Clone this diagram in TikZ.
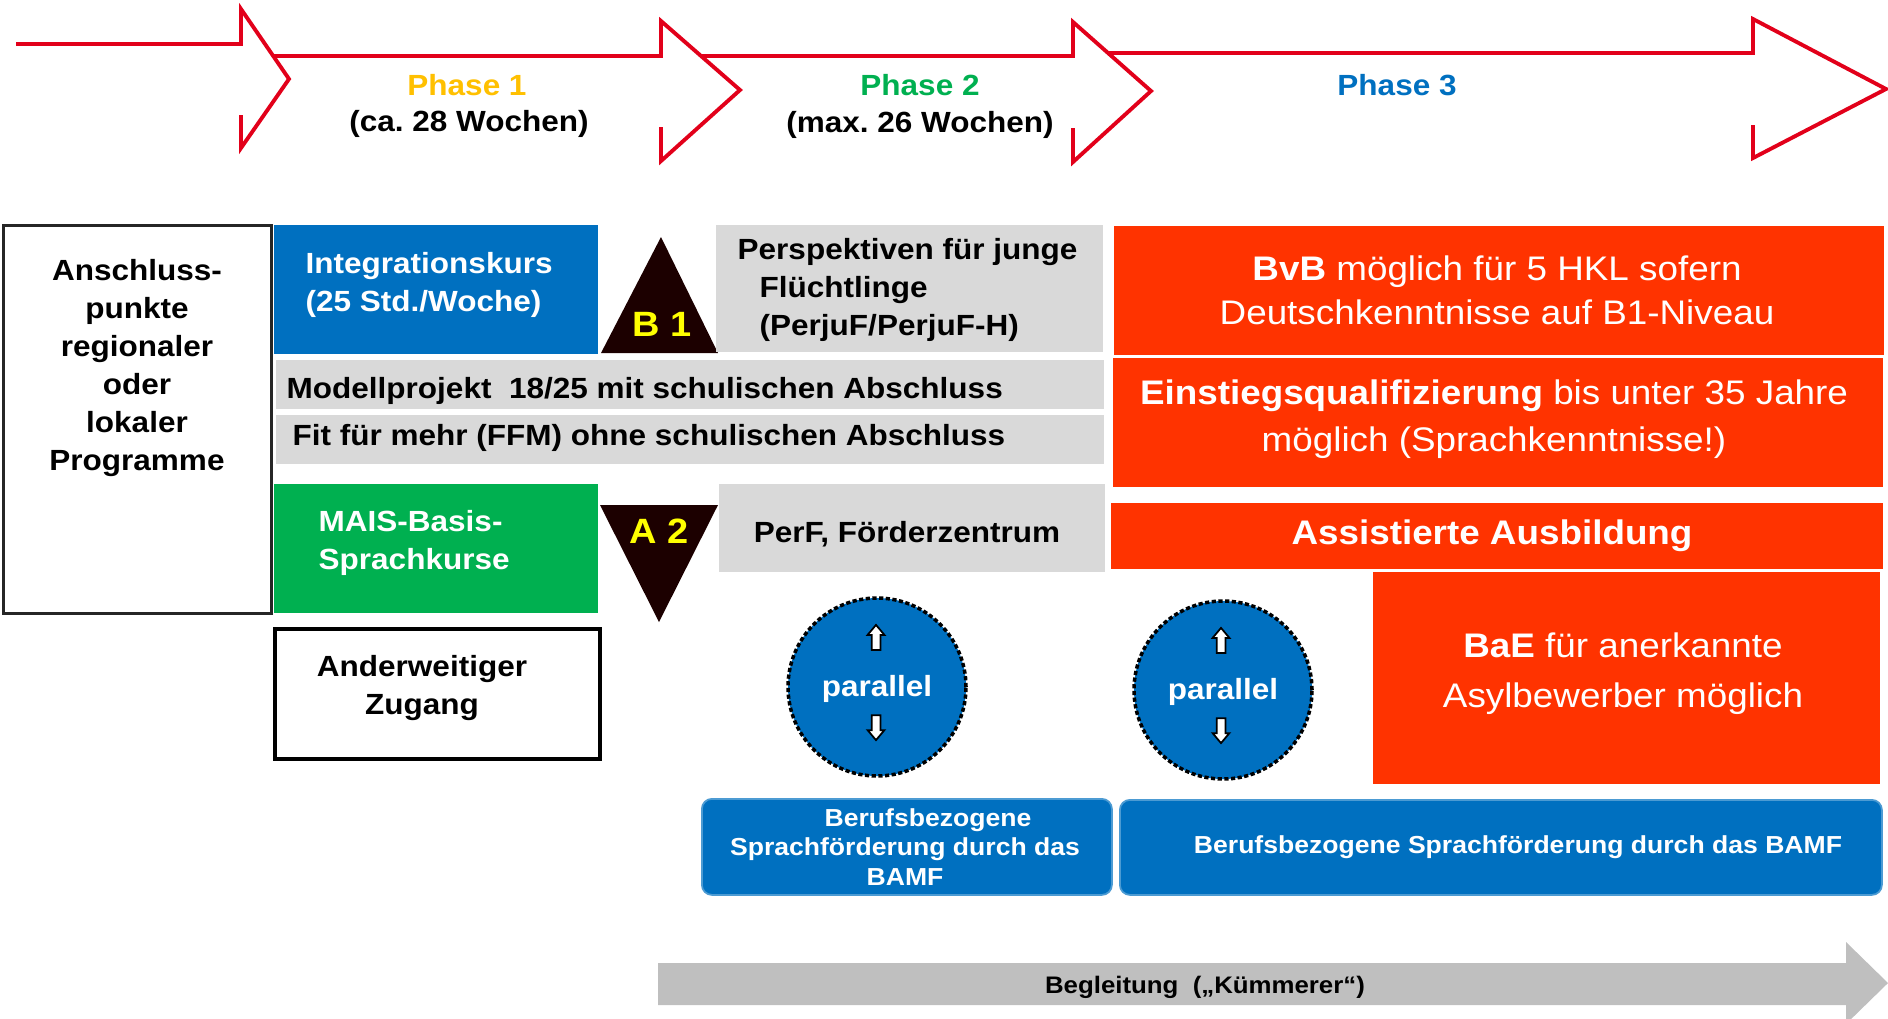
\documentclass[tikz,border=0pt]{standalone}
\usepackage{fontspec}
\setmainfont{Liberation Sans}[FakeStretch=1.08]
\usepackage{tikz}
\usetikzlibrary{calc,shapes.arrows}
\definecolor{arrowred}{HTML}{E2001A}
\definecolor{phgold}{HTML}{FFC000}
\definecolor{phgreen}{HTML}{00B050}
\definecolor{phblue}{HTML}{0070C0}
\definecolor{boxblue}{HTML}{0070C0}
\definecolor{boxgreen}{HTML}{00B050}
\definecolor{boxgray}{HTML}{D9D9D9}
\definecolor{boxred}{HTML}{FF3300}
\definecolor{tri}{HTML}{1C0000}
\definecolor{trilabel}{HTML}{FFFF00}
\definecolor{begl}{HTML}{BFBFBF}
\frenchspacing
\tikzset{
  timeline/.style={draw=arrowred, line width=1.1pt, line join=miter},
  pbox/.style={rectangle, inner sep=0pt, anchor=north west},
  lab/.style={font=\fontsize{8.3}{10.8}\selectfont\bfseries, inner sep=0pt},
  wlab/.style={lab, text=white},
  rlab/.style={font=\fontsize{9.7}{12.6}\selectfont, text=white, inner sep=0pt, align=center},
  slab/.style={font=\fontsize{7}{8.4}\selectfont\bfseries, text=white, inner sep=0pt, align=center},
  trilab/.style={font=\fontsize{10}{11}\selectfont\bfseries, text=trilabel, inner sep=0pt},
  parcirc/.style={circle, fill=boxblue, draw=black, line width=1pt, dash pattern=on 1.2pt off 0.7pt, minimum size=1.78cm, inner sep=0pt},
  updown/.style={single arrow, draw=black, fill=white, line width=0.5pt, minimum height=0.25cm, inner sep=0.035cm, single arrow head extend=0.04cm, single arrow tip angle=80},
  bamf/.style={pbox, fill=boxblue, draw=boxblue!70!white, line width=0.5pt, rounded corners=0.1cm},
}
\begin{document}
\begin{tikzpicture}[x=1cm,y=-1cm]
  \useasboundingbox (0,0) rectangle (18.88,10.18);
  % phases on top, last one first
  \fill[white] (10.73,0.53) -- (17.53,0.53) -- (17.53,0.19) -- (18.86,0.89) -- (17.53,1.58) -- (17.53,1.25) -- (10.73,1.25) -- cycle;
  \draw[timeline] (10.73,0.53) -- (17.53,0.53) -- (17.53,0.19) -- (18.86,0.89) -- (17.53,1.58) -- (17.53,1.25);
  \fill[white] (6.61,0.56) -- (10.73,0.56) -- (10.73,0.22) -- (11.51,0.91) -- (10.73,1.62) -- (10.73,1.28) -- (6.61,1.28) -- cycle;
  \draw[timeline] (6.61,0.56) -- (10.73,0.56) -- (10.73,0.22) -- (11.51,0.91) -- (10.73,1.62) -- (10.73,1.28);
  \fill[white] (2.41,0.56) -- (6.61,0.56) -- (6.61,0.21) -- (7.40,0.90) -- (6.61,1.61) -- (6.61,1.27) -- (2.41,1.27) -- cycle;
  \draw[timeline] (2.41,0.56) -- (6.61,0.56) -- (6.61,0.21) -- (7.40,0.90) -- (6.61,1.61) -- (6.61,1.27);
  \fill[white] (0.16,0.44) -- (2.41,0.44) -- (2.41,0.09) -- (2.89,0.79) -- (2.41,1.48) -- (2.41,1.15) -- (0.16,1.15) -- cycle;
  \draw[timeline] (0.16,0.44) -- (2.41,0.44) -- (2.41,0.09) -- (2.89,0.79) -- (2.41,1.48) -- (2.41,1.15);
  \node[lab, text=phgold] (ph1) at (4.67,0.85) {Phase 1};
  \node[lab] (ph1w) at (4.69,1.24) {(ca. 28 Wochen)};
  \node[lab, text=phgreen] (ph2) at (9.20,0.85) {Phase 2};
  \node[lab] (ph2w) at (9.20,1.25) {(max. 26 Wochen)};
  \node[lab, text=phblue] (ph3) at (13.97,0.85) {Phase 3};

  % left column
  \node[pbox, draw=black!85, line width=0.8pt, minimum width=2.68cm, minimum height=3.88cm] (lokal) at (0.02,2.24) {};
  \node[lab, align=center] (lokaltxt) at (1.37,3.68) {Anschluss-\\punkte\\regionaler\\oder\\lokaler\\Programme};

  % phase 1 and 2 boxes
  \node[pbox, fill=boxblue, minimum width=3.24cm, minimum height=1.29cm] (integ) at (2.73,2.24) {};
  \node[wlab, align=left, anchor=west] (integtxt) at (3.05,2.85) {Integrationskurs\\(25 Std./Woche)};
  \fill[tri] (6.01,3.53) -- (6.61,2.37) -- (7.18,3.53) -- cycle;
  \node[trilab] (b1) at (6.62,3.24) {B 1};
  \node[pbox, fill=boxgray, minimum width=3.87cm, minimum height=1.27cm] (perju) at (7.15,2.24) {};
  \node[lab, align=left, anchor=west] (perjutxt) at (7.37,2.90) {Perspektiven für junge\\\hspace*{0.22cm}Flüchtlinge\\\hspace*{0.22cm}(PerjuF/PerjuF-H)};
  \node[pbox, fill=boxgray, minimum width=8.28cm, minimum height=0.49cm] (modell) at (2.75,3.59) {};
  \node[lab, anchor=base west] (modelltxt) at (2.86,3.985) {Modellprojekt~ 18/25 mit schulischen Abschluss};
  \node[pbox, fill=boxgray, minimum width=8.28cm, minimum height=0.49cm] (ffm) at (2.75,4.14) {};
  \node[lab, anchor=base west] (ffmtxt) at (2.92,4.455) {Fit für mehr (FFM) ohne schulischen Abschluss};
  \node[pbox, fill=boxgreen, minimum width=3.24cm, minimum height=1.29cm] (mais) at (2.73,4.83) {};
  \node[wlab, align=left, anchor=west] (maistxt) at (3.18,5.43) {MAIS-Basis-\\Sprachkurse};
  \fill[tri] (6.00,5.05) -- (7.18,5.05) -- (6.59,6.22) -- cycle;
  \node[trilab] (a2) at (6.59,5.31) {A 2};
  \node[pbox, fill=boxgray, minimum width=3.86cm, minimum height=0.88cm] (perf) at (7.18,4.83) {};
  \node[lab, anchor=base] (perftxt) at (9.07,5.425) {PerF, Förderzentrum};
  \node[pbox, draw=black, line width=1.2pt, minimum width=3.25cm, minimum height=1.30cm] (anderw) at (2.73,6.27) {};
  \node[lab, align=center] (anderwtxt) at (4.22,6.88) {Anderweitiger\\Zugang};

  % phase 3 boxes
  \node[pbox, fill=boxred, minimum width=7.70cm, minimum height=1.29cm] (bvb) at (11.13,2.25) {};
  \node[rlab] (bvbtxt) at (14.97,2.90) {\textbf{BvB} möglich für 5 HKL sofern\\Deutschkenntnisse auf B1-Niveau};
  \node[pbox, fill=boxred, minimum width=7.70cm, minimum height=1.29cm] (eq) at (11.12,3.57) {};
  \node[rlab, font=\fontsize{9.7}{13.4}\selectfont] (eqtxt) at (14.94,4.19) {\textbf{Einstiegsqualifizierung} bis unter 35 Jahre\\möglich (Sprachkenntnisse!)};
  \node[pbox, fill=boxred, minimum width=7.72cm, minimum height=0.66cm] (asa) at (11.10,5.02) {};
  \node[rlab, font=\fontsize{9.7}{12}\selectfont\bfseries, anchor=base] (asatxt) at (14.92,5.44) {Assistierte Ausbildung};
  \node[pbox, fill=boxred, minimum width=5.07cm, minimum height=2.12cm] (bae) at (13.72,5.71) {};
  \node[rlab, font=\fontsize{9.7}{14.2}\selectfont] (baetxt) at (16.23,6.74) {\textbf{BaE} für anerkannte\\Asylbewerber möglich};

  % parallel
  \node[parcirc] (par1) at (8.77,6.87) {};
  \node[wlab] (par1txt) at (8.77,6.89) {parallel};
  \node[updown, shape border rotate=90] (par1up) at (8.76,6.40) {};
  \node[updown, shape border rotate=270] (par1dn) at (8.76,7.25) {};
  \node[parcirc] (par2) at (12.23,6.90) {};
  \node[wlab] (par2txt) at (12.23,6.92) {parallel};
  \node[updown, shape border rotate=90] (par2up) at (12.21,6.43) {};
  \node[updown, shape border rotate=270] (par2dn) at (12.21,7.28) {};

  % BAMF
  \node[bamf, minimum width=4.10cm, minimum height=0.96cm] (bamf1) at (7.01,7.98) {};
  \node[slab] (bamf1txt) at (9.05,8.47) {\hspace*{0.46cm}Berufsbezogene\\Sprachförderung durch das\\BAMF};
  \node[bamf, minimum width=7.62cm, minimum height=0.95cm] (bamf2) at (11.19,7.99) {};
  \node[slab] (bamf2txt) at (15.18,8.47) {Berufsbezogene Sprachförderung durch das BAMF};

  % Begleitung
  \fill[begl] (6.58,9.63) -- (18.46,9.63) -- (18.46,9.42) -- (18.88,9.83) -- (18.46,10.24) -- (18.46,10.05) -- (6.58,10.05) -- cycle;
  \node[lab, font=\fontsize{6.8}{8}\selectfont\bfseries, anchor=base] (begltxt) at (12.05,9.935) {Begleitung~ („Kümmerer“)};
\end{tikzpicture}
\end{document}
